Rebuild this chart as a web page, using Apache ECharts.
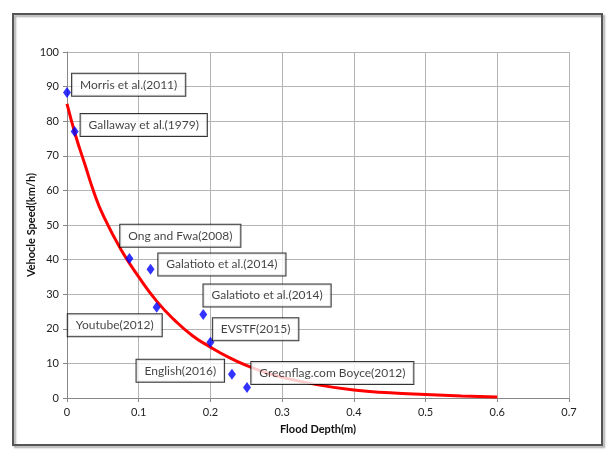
<!DOCTYPE html>
<html>
<head>
<meta charset="utf-8">
<script src="https://cdn.jsdelivr.net/npm/echarts@6/dist/echarts.min.js"></script>
<style>
  html, body { margin: 0; padding: 0; background: #fff; }
  #chart { width: 613px; height: 457px; }
</style>
</head>
<body>
<div id="chart"></div>
<script>
// observed points (flood depth m, speed km/h)
var depths = [0, 0.0107, 0.087, 0.1165, 0.125, 0.19, 0.2, 0.23, 0.251];
var speeds = [88.3, 77, 40.3, 37.2, 26.2, 24.1, 16.1, 6.9, 3];

// fitted curve
var curveX = [0, 0.0125, 0.025, 0.0375, 0.05, 0.075, 0.1, 0.125, 0.15, 0.175, 0.2, 0.225, 0.25, 0.275, 0.3, 0.35, 0.4, 0.45, 0.5, 0.55, 0.6];
var curveY = [85, 75.5, 67.5, 59.5, 53, 43, 35, 28, 22.5, 18, 14.7, 11.8, 9.4, 7.5, 6, 3.8, 2.3, 1.5, 1.0, 0.6, 0.3];

// annotation boxes (centre in data units)
var noteText = ["Morris et al.(2011)", "Gallaway et al.(1979)", "Ong and Fwa(2008)", "Galatioto et al.(2014)",
  "Galatioto et al.(2014)", "Youtube(2012)", "EVSTF(2015)", "English(2016)", "Greenflag.com Boyce(2012)"];
var noteX = [0.086, 0.107, 0.158, 0.216, 0.279, 0.0666, 0.263, 0.158, 0.37];
var noteY = [90.5, 78.9, 46.9, 38.6, 29.6, 21.0, 19.9, 7.9, 7.2];

var xTicks = [0, 0.1, 0.2, 0.3, 0.4, 0.5, 0.6, 0.7];

var chart = echarts.init(document.getElementById("chart"));

var points = [];
for (var i = 0; i < depths.length; i++) { points.push([depths[i], speeds[i]]); }
var curve = [];
for (var j = 0; j < curveX.length; j++) { curve.push([curveX[j], curveY[j]]); }
var notes = [];
for (var k = 0; k < noteText.length; k++) { notes.push({ value: [noteX[k], noteY[k]], name: noteText[k] }); }

var font = "Lato, 'Open Sans', sans-serif";

chart.setOption({
  animation: false,
  backgroundColor: "#fff",
  textStyle: { fontFamily: font },
  grid: { left: 67, right: 44, top: 52, bottom: 59 },
  graphic: [{
    type: "rect",
    shape: { x: 13, y: 14, width: 589, height: 431 },
    style: { fill: "none", stroke: "#555", lineWidth: 2, shadowColor: "rgba(0,0,0,0.35)", shadowOffsetX: 2, shadowOffsetY: 2, shadowBlur: 2 },
    z: 100
  }],
  xAxis: {
    type: "value", min: 0, max: 0.7, interval: 0.1,
    name: "Flood Depth(m)", nameLocation: "middle", nameGap: 26, nameMoveOverlap: false,
    nameTextStyle: { fontSize: 11, fontWeight: "bold", color: "#111", fontFamily: font },
    axisLine: { show: true, lineStyle: { color: "#888" } },
    axisTick: { show: true, length: 4, lineStyle: { color: "#888" } },
    axisLabel: { fontSize: 11, color: "#222", margin: 9,
      formatter: function (v) { for (var t = 0; t < xTicks.length; t++) { if (Math.abs(xTicks[t] - v) < 1e-6) return String(xTicks[t]); } return ""; } },
    splitLine: { show: true, lineStyle: { color: "#b4b4b4", width: 1 } }
  },
  yAxis: {
    type: "value", min: 0, max: 100, interval: 10,
    name: "Vehocle Speed(km/h)", nameLocation: "middle", nameGap: 30, nameMoveOverlap: false,
    nameTextStyle: { fontSize: 11, fontWeight: "bold", color: "#111", fontFamily: font },
    axisLine: { show: true, lineStyle: { color: "#888" } },
    axisTick: { show: true, length: 4, lineStyle: { color: "#888" } },
    axisLabel: { fontSize: 11, color: "#222", margin: 8 },
    splitLine: { show: true, lineStyle: { color: "#b4b4b4", width: 1 } }
  },
  series: [
    {
      type: "line", data: curve, smooth: true, showSymbol: false, symbol: "none",
      lineStyle: { color: "#ff0000", width: 3 }, z: 2
    },
    {
      type: "scatter", data: points, symbol: "diamond", symbolSize: [8, 11],
      itemStyle: { color: "#0000ff" }, z: 3
    },
    {
      type: "scatter", data: notes, symbolSize: 0, z: 5,
      label: {
        show: true, position: "inside", formatter: "{b}",
        fontSize: 12, color: "#111", fontFamily: font,
        backgroundColor: "#fff", borderColor: "#000", borderWidth: 1,
        padding: [5, 8, 5, 8]
      }
    }
  ]
});
</script>
</body>
</html>
